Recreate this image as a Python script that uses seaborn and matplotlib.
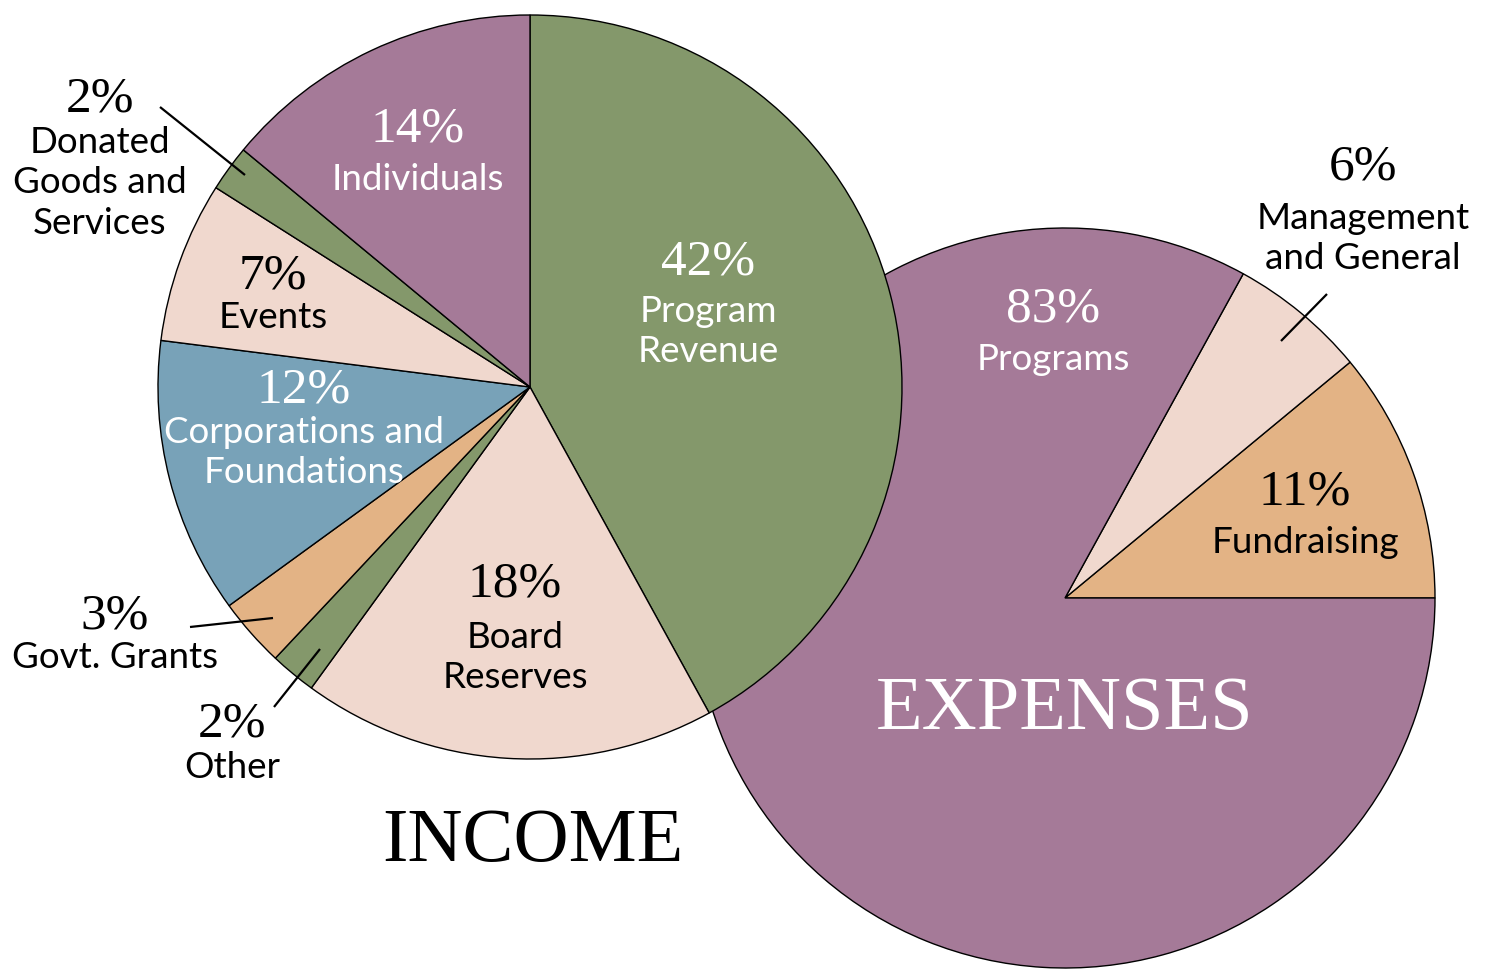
import matplotlib
matplotlib.use("Agg")
import matplotlib.pyplot as plt
import seaborn as sns

# ---------------- data ----------------
income_labels = ["Program\nRevenue", "Board\nReserves", "Other", "Govt. Grants",
                 "Corporations and\nFoundations", "Events",
                 "Donated\nGoods and\nServices", "Individuals"]
income_values = [42, 18, 2, 3, 12, 7, 2, 14]

expense_labels = ["Fundraising", "Management\nand General", "Programs"]
expense_values = [11, 6, 83]

# ---------------- style ----------------
sns.set_theme(style="white")
PURPLE = "#A57A98"
GREEN = "#84986B"
PINK = "#F0D8CE"
BLUE = "#78A2B8"
ORANGE = "#E3B385"
income_colors = [GREEN, PINK, GREEN, ORANGE, BLUE, PINK, GREEN, PURPLE]
expense_colors = [ORANGE, PINK, PURPLE]

SANS = ["Lato", "DejaVu Sans"]
SERIF = ["Liberation Serif", "DejaVu Serif"]
plt.rcParams["font.family"] = SANS

W, H = 1486, 972
fig = plt.figure(figsize=(W / 100, H / 100), dpi=100)
ax = fig.add_axes([0, 0, 1, 1])

def Y(y):
    return H - y

edge = dict(edgecolor="black", linewidth=1.0)

# expenses pie (behind)
ax.pie(expense_values, colors=expense_colors, startangle=0, counterclock=True,
       center=(1065, Y(598)), radius=370, wedgeprops=edge, frame=True)
# income pie (front)
ax.pie(income_values, colors=income_colors, startangle=90, counterclock=False,
       center=(530, Y(387)), radius=372, wedgeprops=edge, frame=True)

ax.set_xlim(0, W)
ax.set_ylim(0, H)
ax.set_aspect("equal")
ax.axis("off")

PCT_SIZE = 37
LAB_SIZE = 26.5

def put(pct, label, x, ypct, ylab, color, ls=1.27):
    ax.text(x, Y(ypct), f"{pct}%", ha="center", va="center", fontsize=PCT_SIZE,
            family=SERIF, color=color)
    ax.text(x, Y(ylab - 19), label, ha="center", va="top", fontsize=LAB_SIZE,
            family=SANS, color=color, linespacing=ls)

# income labels: (index, x, y of pct centre, y of first label line centre, color)
income_layout = [
    (0, 708, 262, 314, "white"),
    (1, 515, 584, 640, "black"),
    (2, 232, 724, 770, "black"),
    (3, 115, 616, 660, "black"),
    (4, 304, 390, 435, "white"),
    (5, 273, 276, 320, "black"),
    (6, 100, 99, 145, "black"),
    (7, 418, 129, 182, "white"),
]
for i, x, yp, yl, c in income_layout:
    put(income_values[i], income_labels[i], x, yp, yl, c)

expense_layout = [
    (0, 1305, 492, 545, "black"),
    (1, 1363, 167, 221, "black"),
    (2, 1053, 309, 362, "white"),
]
for i, x, yp, yl, c in expense_layout:
    put(expense_values[i], expense_labels[i], x, yp, yl, c)

# leader lines
leaders = [((160, 107), (245, 175)),
           ((190, 627), (273, 618)),
           ((274, 707), (320, 649)),
           ((1327, 294), (1281, 341))]
for (x0, y0), (x1, y1) in leaders:
    ax.plot([x0, x1], [Y(y0), Y(y1)], color="black", linewidth=1.6,
            solid_capstyle="butt")

# titles
ax.text(533, Y(842), "INCOME", ha="center", va="center", fontsize=55,
        family=SERIF, color="black")
ax.text(1065, Y(710), "EXPENSES", ha="center", va="center", fontsize=55,
        family=SERIF, color="white")

fig.savefig("out.png", dpi=100, facecolor="white")
